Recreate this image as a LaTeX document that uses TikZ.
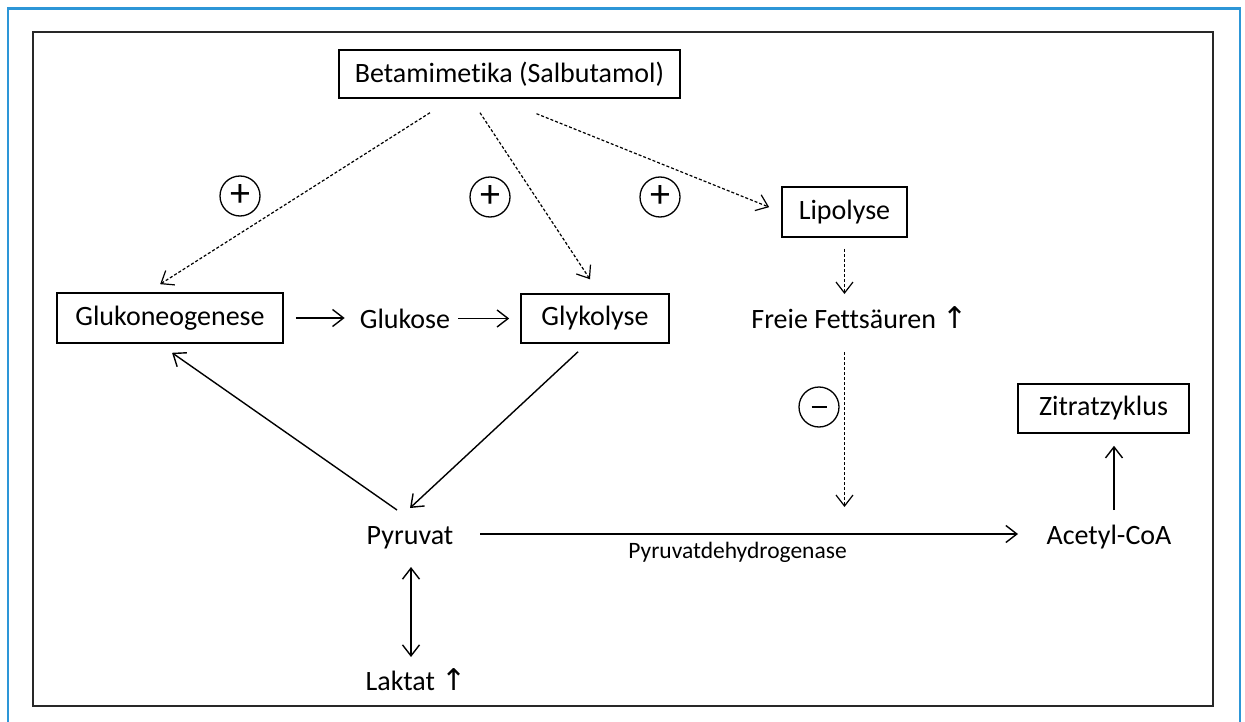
\documentclass[tikz,border=0pt]{standalone}
\usepackage{fontspec}
\setmainfont{Carlito}[Ligatures=NoCommon]
\newfontfamily\symfont{DejaVu Sans}
\usetikzlibrary{arrows.meta,calc}
\definecolor{frameblue}{RGB}{45,150,215}
\definecolor{framegray}{RGB}{40,40,40}
\newcommand{\uparr}{{\symfont\fontsize{30}{34}\selectfont ↑}}
\begin{document}
\begin{tikzpicture}[x=1pt,y=-1pt,
  >={Straight Barb[length=11pt,width=17pt]},
  big/.style={font=\fontsize{28}{34}\selectfont},
  box/.style={big, draw, line width=1.6pt, inner sep=0pt},
  txt/.style={big, inner sep=0pt, anchor=base},
  sign/.style={draw, circle, line width=1.3pt, minimum size=40pt, inner sep=0pt, font=\fontsize{40}{44}\selectfont},
  arr/.style={->, line width=1.4pt},
  darr/.style={->, line width=1.2pt, dash pattern=on 3pt off 2pt}]
\useasboundingbox (0,0) rectangle (1245,722);
% frames
\draw[frameblue, line width=2.2pt] (8,722) -- (8,8.5) -- (1240,8.5) -- (1240,722);
\draw[framegray, line width=2.2pt] (33,32) rectangle (1213,706);
% boxes
\node[box, minimum width=341pt, minimum height=48pt] (beta) at (509.5,74) {Betamimetika (Salbutamol)};
\node[box, minimum width=226pt, minimum height=50pt] (gluko) at (170,318) {Glukoneogenese};
\node[box, minimum width=148pt, minimum height=49pt] (glyko) at (595,318.5) {Glykolyse};
\node[box, minimum width=125pt, minimum height=50pt] (lipo) at (844.5,212) {Lipolyse};
\node[box, minimum width=171pt, minimum height=49pt] (zitrat) at (1103.5,408.5) {Zitratzyklus};
% texts
\node[txt] (glukose) at (405,328) {Glukose};
\node[txt] (freie) at (859.5,328) {Freie Fettsäuren \uparr};
\node[txt] (pyr) at (410,544) {Pyruvat};
\node[txt] (laktat) at (416,690) {Laktat \uparr};
\node[txt] (acetyl) at (1109,544) {Acetyl-CoA};
\node[inner sep=0pt, anchor=base, font=\fontsize{23.5}{28}\selectfont] (pdh) at (737.5,558) {Pyruvatdehydrogenase};
% signs
\node[sign] (plus1) at (240,196) {+};
\node[sign] (plus2) at (490,197) {+};
\node[sign] (plus3) at (660,197) {+};
\node[sign] (minus) at (819,407) {\rule[-1.3pt]{15pt}{2.8pt}};
% dashed arrows
\draw[darr, shorten <=26pt, shorten >=15pt] ($(beta.south)+(-57.6,0)$) -- ($(gluko.north)+(-22.5,0)$);
\draw[darr, shorten <=16.7pt, shorten >=16.7pt] ($(beta.south)+(-38.7,0)$) -- ($(glyko.north)+(4.2,0)$);
\draw[darr, shorten <=40pt, shorten >=13pt] ($(beta.south)+(-10.1,0)$) -- (lipo.west);
\draw[darr, shorten <=11pt, shorten >=34pt] (lipo.south) -- (lipo.south |- freie.base);
\draw[darr, shorten <=24pt, shorten >=37pt] (lipo.south |- freie.base) -- (lipo.south |- acetyl.base);
% solid arrows
\draw[arr, shorten <=12pt, shorten >=15pt] (gluko.east) -- (gluko.east -| glukose.west);
\draw[arr, shorten <=8pt, shorten >=11pt] (glukose.east |- glyko.west) -- (glyko.west);
\draw[arr, shorten <=11.7pt] ($(glyko.south)+(-8.4,0)$) -- ($(pyr.base)+(0,-36)$);
\draw[arr, shorten >=15.7pt] ($(pyr.base)+(-13,-34)$) -- ($(gluko.south)+(-10.8,0)$);
\draw[arr] ($(pyr.base)+(70,-10)$) -- ($(acetyl.base)+(-91,-10)$);
\draw[<->, line width=1.4pt] ($(pyr.base)+(1,23)$) -- ($(laktat.base)+(-5,-33)$);
\draw[arr] ($(acetyl.base)+(5,-34)$) -- ($(zitrat.south)+(10.5,12)$);
\end{tikzpicture}
\end{document}
